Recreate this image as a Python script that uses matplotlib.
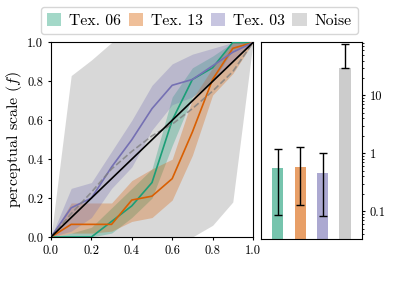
import numpy as np
import matplotlib
matplotlib.use("Agg")
import matplotlib.pyplot as plt
from matplotlib.patches import Patch

plt.rcParams['font.family'] = ['cmr10', 'DejaVu Serif']
plt.rcParams['mathtext.fontset'] = 'cm'
plt.rcParams['axes.formatter.use_mathtext'] = True

# stimulus levels
levels = [0.0, 0.1, 0.2, 0.3, 0.4, 0.5, 0.6, 0.7, 0.8, 0.9, 1.0]

# perceptual scales (mean) and spread bands
tex06_mean = [0.0, 0.0, 0.0, 0.08, 0.16, 0.28, 0.60, 0.81, 0.87, 1.0, 1.0]
tex06_low = [0.0, 0.0, 0.0, 0.02, 0.10, 0.20, 0.47, 0.72, 0.80, 0.96, 1.0]
tex06_high = [0.0, 0.02, 0.05, 0.15, 0.25, 0.35, 0.72, 0.87, 0.93, 1.0, 1.0]

tex13_mean = [0.0, 0.065, 0.065, 0.065, 0.19, 0.21, 0.30, 0.54, 0.81, 0.97, 1.0]
tex13_low = [0.0, 0.02, 0.02, 0.03, 0.08, 0.10, 0.19, 0.42, 0.73, 0.84, 1.0]
tex13_high = [0.0, 0.175, 0.175, 0.175, 0.29, 0.35, 0.40, 0.71, 0.87, 1.0, 1.0]

tex03_mean = [0.0, 0.15, 0.20, 0.36, 0.50, 0.66, 0.78, 0.81, 0.88, 0.95, 1.0]
tex03_low = [0.0, 0.03, 0.10, 0.25, 0.36, 0.55, 0.68, 0.72, 0.80, 0.90, 1.0]
tex03_high = [0.0, 0.25, 0.28, 0.44, 0.60, 0.78, 0.89, 0.94, 0.97, 1.0, 1.0]

noise_mean = [0.0, 0.12, 0.23, 0.35, 0.44, 0.52, 0.58, 0.66, 0.75, 0.85, 1.0]
noise_low = [0.0, 0.0, 0.0, 0.0, 0.0, 0.0, 0.0, 0.0, 0.06, 0.18, 1.0]
noise_high = [0.0, 0.83, 0.91, 1.0, 1.0, 1.0, 1.0, 1.0, 1.0, 1.0, 1.0]

# bar panel (log scale)
bar_names = ['Tex. 06', 'Tex. 13', 'Tex. 03', 'Noise']
bar_values = [0.564, 0.587, 0.45, 29.8]
bar_err_low = [0.0875, 0.127, 0.082, 29.8]
bar_err_high = [1.19, 1.30, 1.03, 77.7]

scale_ticks = [0.0, 0.2, 0.4, 0.6, 0.8, 1.0]
colors = ['#1b9e77', '#d95f02', '#7570b3', 'grey']

fig = plt.figure(figsize=(4.07, 2.85), dpi=100)
ax1 = fig.add_axes([0.1253, 0.1684, 0.4963, 0.6825])
ax2 = fig.add_axes([0.641, 0.161, 0.248, 0.692])

ax1.fill_between(levels, noise_low, noise_high, color='grey', alpha=0.3, lw=0, zorder=1)
bands = [(tex06_low, tex06_high, tex06_mean), (tex13_low, tex13_high, tex13_mean),
         (tex03_low, tex03_high, tex03_mean)]
for c, (lo, hi, m) in zip(colors[:3], bands):
    ax1.fill_between(levels, lo, hi, color=c, alpha=0.3, lw=0, zorder=2)
for c, (lo, hi, m) in zip(colors[:3], bands):
    ax1.plot(levels, m, color=c, lw=1.2, zorder=3)
ax1.plot(levels, noise_mean, '--', color='grey', alpha=0.8, lw=1.2, zorder=3)
ax1.plot([0, 1], [0, 1], color='black', lw=1.2, zorder=4)
ax1.set_xlim(0, 1)
ax1.set_ylim(0, 1)
ax1.set_xticks(scale_ticks)
ax1.set_yticks(scale_ticks)
ax1.set_xticklabels(['%.1f' % t for t in scale_ticks])
ax1.set_yticklabels(['%.1f' % t for t in scale_ticks])
ax1.set_ylabel(r'perceptual scale ($f$)', fontsize=11.5)
ax1.yaxis.set_label_coords(-0.134, 0.5)
ax1.tick_params(labelsize=9, length=2.5, pad=3)

pos = np.arange(len(bar_values))
vals = np.array(bar_values)
yerr = [vals - np.array(bar_err_low), np.array(bar_err_high) - vals]
bar_alpha = [0.6, 0.6, 0.6, 0.4]
for p, v, c, a in zip(pos, vals, colors, bar_alpha):
    ax2.bar(p, v, width=0.5, color=c, alpha=a)
ax2.errorbar(pos, vals, yerr=yerr, fmt='none', ecolor='black', elinewidth=1, capsize=3)
ax2.set_yscale('log')
ax2.set_ylim(0.033, 84)
ax2.set_xlim(-0.75, 3.75)
ax2.set_xticks([])
ax2.yaxis.tick_right()
ax2.set_yticks([0.1, 1, 10])
ax2.set_yticklabels(['0.1', '1', '10'])
ax2.tick_params(labelsize=9, length=2.5, pad=3)
ax2.tick_params(which='minor', length=1.5)

handles = [Patch(facecolor=c, alpha=0.4 if c != 'grey' else 0.3, label=n)
           for c, n in zip(colors, bar_names)]
fig.legend(handles=handles, loc='center', bbox_to_anchor=(0.49, 0.928), ncol=4,
           fontsize=11.3, handlelength=0.9, handleheight=0.85, handletextpad=0.5,
           columnspacing=0.5, borderpad=0.4)

fig.savefig('out.png', dpi=100)
